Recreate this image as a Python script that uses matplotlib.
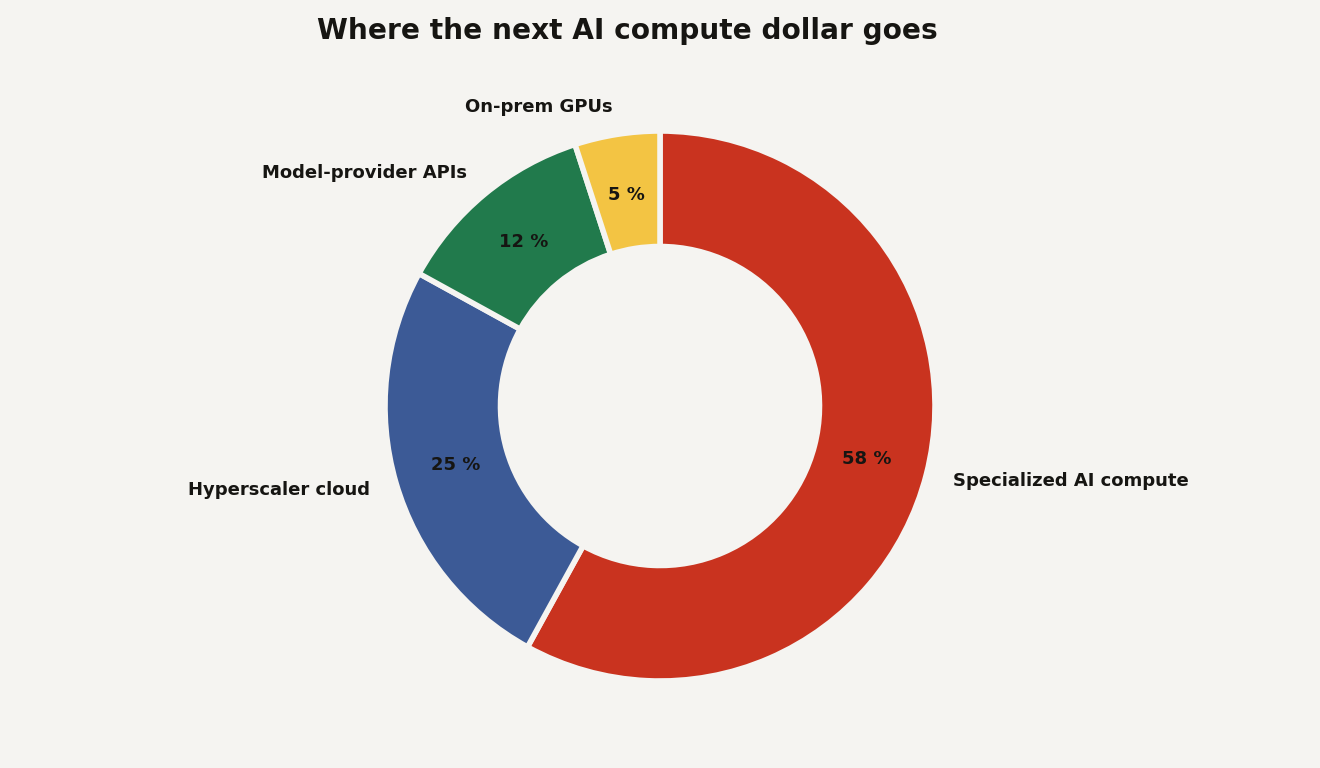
import matplotlib.pyplot as plt

plt.rcParams["font.family"] = ["DejaVu Sans"]

# Share of the next AI compute dollar (percent)
segments = ["Specialized AI compute", "Hyperscaler cloud", "Model-provider APIs", "On-prem GPUs"]
shares = [58, 25, 12, 5]
colors = ["#C9331F", "#3C5A96", "#217A4C", "#F3C443"]

bg = "#F5F4F1"
ink = "#161512"

fig = plt.figure(figsize=(13.2, 7.68), dpi=100, facecolor=bg)
ax = fig.add_axes([0, 0, 1, 1])
ax.set_facecolor(bg)

wedges, texts, autotexts = ax.pie(
    shares,
    labels=segments,
    colors=colors,
    startangle=90,
    counterclock=False,
    autopct="%d %%",
    pctdistance=0.775,
    labeldistance=1.1,
    wedgeprops=dict(width=0.42, edgecolor=bg, linewidth=4),
    textprops=dict(fontsize=13, fontweight="bold", color=ink),
)

# place the donut: 275 px per unit, centre at (660, 406) from top-left
scale = 275
ax.set_xlim(-660 / scale, 660 / scale)
ax.set_ylim(-362 / scale, 406 / scale)
ax.set_aspect("auto")
ax.axis("off")

fig.text(0.475, 0.959, "Where the next AI compute dollar goes",
         ha="center", va="center", fontsize=20.2, fontweight="bold", color=ink)

fig.savefig("out.png", dpi=100, facecolor=bg)
